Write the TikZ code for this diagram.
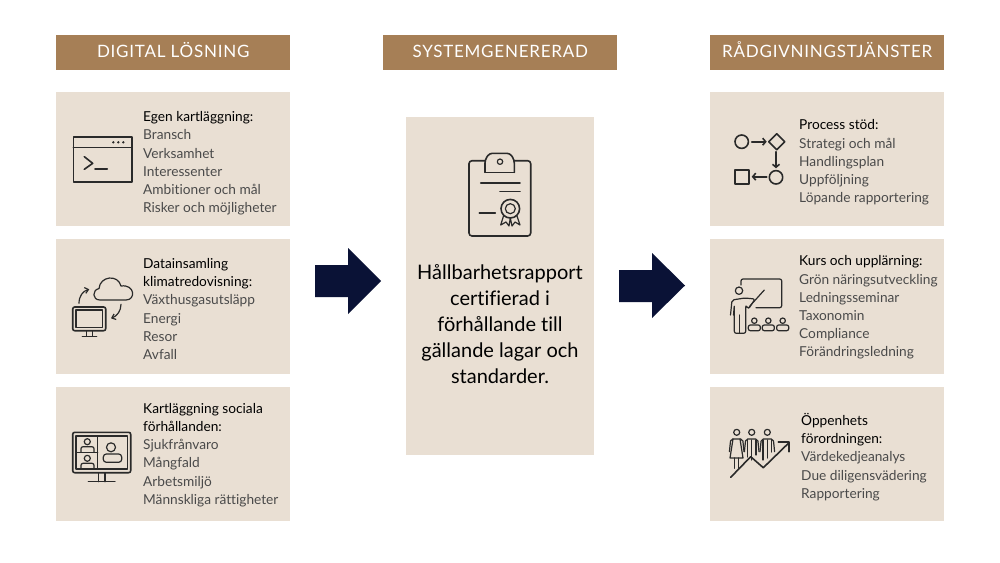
\documentclass[tikz,border=0pt]{standalone}
\usepackage{fontspec}
\setmainfont[Ligatures=NoCommon]{Lato}
\newfontfamily\capsfont[LetterSpace=4.5]{Lato}
\usetikzlibrary{arrows.meta}
\definecolor{panel}{HTML}{E9DFD3}
\definecolor{gold}{HTML}{A67F56}
\definecolor{navy}{HTML}{0A1236}
\definecolor{ink}{HTML}{2A2A2A}
\definecolor{soft}{HTML}{4A4A4A}
\tikzset{
 panelbox/.style={fill=panel,draw=none,anchor=north west,inner sep=0pt,minimum width=234pt},
 headbox/.style={fill=gold,draw=none,anchor=north west,inner sep=0pt,minimum width=234pt,minimum height=35pt,text=white,text height=12pt,text depth=3pt,font=\capsfont\fontsize{17}{20}\selectfont},
 listing/.style={anchor=west,inner sep=0pt,align=left,text=soft,font=\fontsize{13.7}{18.2}\selectfont},
 centertext/.style={anchor=center,inner sep=0pt,align=center,text=black,font=\fontsize{20}{26}\selectfont},
 icon/.style={draw=ink,line width=1.6pt,line cap=round,line join=round},
 thinicon/.style={draw=ink,line width=1.2pt,line cap=round,line join=round},
 bigarrow/.style={fill=navy,draw=none},
}
\newcommand{\hd}[1]{{\color{black}#1}}
\begin{document}
\begin{tikzpicture}[x=1pt,y=-1pt]
\useasboundingbox[fill=white] (0,0) rectangle (1000,562);
% headers
\node[headbox] (h1) at (56,35) {DIGITAL LÖSNING};
\node[headbox] (h2) at (383,35) {SYSTEMGENERERAD};
\node[headbox] (h3) at (710,35) {RÅDGIVNINGSTJÄNSTER};
% panels
\node[panelbox,minimum height=134pt] (l1) at (56,92) {};
\node[panelbox,minimum height=135pt] (l2) at (56,239) {};
\node[panelbox,minimum height=134pt] (l3) at (56,387) {};
\node[panelbox,minimum height=134pt] (r1) at (710,92) {};
\node[panelbox,minimum height=135pt] (r2) at (710,239) {};
\node[panelbox,minimum height=134pt] (r3) at (710,387) {};
\node[panelbox,minimum width=188pt,minimum height=338pt] (mid) at (406,117) {};
% texts
\node[listing] (tl1) at (143,163.5) {\hd{Egen kartläggning:}\\Bransch\\Verksamhet\\Interessenter\\Ambitioner och mål\\Risker och möjligheter};
\node[listing] (tl2) at (143,309) {\hd{Datainsamling}\\\hd{klimatredovisning:}\\Växthusgasutsläpp\\Energi\\Resor\\Avfall};
\node[listing] (tl3) at (143,455) {\hd{Kartläggning sociala}\\\hd{förhållanden:}\\Sjukfrånvaro\\Mångfald\\Arbetsmiljö\\Männskliga rättigheter};
\node[listing] (tr1) at (799,162.5) {\hd{Process stöd:}\\Strategi och mål\\Handlingsplan\\Uppföljning\\Löpande rapportering};
\node[listing] (tr2) at (799,307.5) {\hd{Kurs och upplärning:}\\Grön näringsutveckling\\Ledningsseminar\\Taxonomin\\Compliance\\Förändringsledning};
\node[listing] (tr3) at (801,457) {\hd{Öppenhets}\\\hd{förordningen:}\\Värdekedjeanalys\\Due diligensvädering\\Rapportering};
\node[centertext] (tm) at (500,324) {Hållbarhetsrapport\\certifierad i\\förhållande till\\gällande lagar och\\standarder.};
% block arrows
\fill[bigarrow] (315,265)--(348,265)--(348,248)--(381,281)--(348,314)--(348,297)--(315,297)--cycle;
\fill[bigarrow] (619,270)--(652,270)--(652,253)--(685,285.5)--(652,318)--(652,302)--(619,302)--cycle;
% icon: terminal
\draw[icon] (73.3,136.7) rectangle (131.7,181.7);
\draw[icon] (73.3,147.3)--(131.7,147.3);
\fill[ink] (113.3,142.3) circle (1.3pt) (118.3,142.3) circle (1.3pt) (123.3,142.3) circle (1.3pt);
\draw[icon] (84.3,156.7)--(92.7,163.3)--(84.3,169.3);
\draw[icon] (95,169)--(107.3,169);
% icon: monitor and cloud
\draw[icon,rounded corners=2pt] (72.7,307) rectangle (105.7,330.7);
\draw[thinicon] (76,310) rectangle (102.7,327.3);
\draw[thinicon] (86.7,330.7)--(86.7,336) (92.3,330.7)--(92.3,336) (82.3,336.3)--(96.7,336.3);
\draw[thinicon] (100,300) .. controls (92,300) and (92,290) .. (99,288.5) .. controls (100,276) and (118,274) .. (121,286) .. controls (135,284) and (136,300) .. (126,300) -- cycle;
\draw[thinicon,-{Straight Barb[length=3.5pt,width=6pt]}] (79,303.3) .. controls (79,296) and (83,291) .. (89.3,289.3);
\draw[thinicon,-{Straight Barb[length=3.5pt,width=6pt]}] (121,304.3) .. controls (121,311) and (117,316) .. (111,318.3);
% icon: video call
\draw[icon,rounded corners=2pt] (72.7,432.3) rectangle (130.7,472.7);
\draw[thinicon] (76,436) rectangle (127.3,469);
\draw[thinicon] (97.7,436)--(97.7,469) (76,452.7)--(97.7,452.7);
\draw[thinicon] (98.3,472.7)--(98.3,481.7) (105,472.7)--(105,481.7) (88.3,481.7)--(115,481.7);
\draw[thinicon] (111,447.3) circle (4.5pt);
\draw[thinicon,rounded corners=3pt] (103.3,462.3) rectangle (121.7,454);
\draw[thinicon] (87.3,441.7) circle (3pt) (87.3,458.3) circle (3pt);
\draw[thinicon,rounded corners=2pt] (81,451.7)--(81,446.7)--(94,446.7)--(94,451.7);
\draw[thinicon,rounded corners=2pt] (81,469)--(81,463.3)--(94,463.3)--(94,469);
% icon: clipboard
\draw[icon,rounded corners=3pt] (485,160.7)--(469,160.7)--(469,236)--(530.7,236)--(530.7,160.7)--(514.3,160.7);
\draw[icon,rounded corners=3pt] (485,172.3)--(485,160)--(489.3,153.3)--(510,153.3)--(514.3,160)--(514.3,172.3);
\draw[icon] (485,172.3)--(514.3,172.3);
\draw[thinicon] (500,161.7) circle (2.7pt);
\draw[icon] (480.7,182.7)--(520,182.7) (500,191.3)--(520,191.3) (479.3,212.7)--(495.3,212.7);
\draw[icon] (510.3,208.7) circle (9.3pt);
\draw[thinicon] (510.3,208.7) circle (5pt);
\draw[thinicon] (503.5,216)--(500.7,225)--(506,222)--(509,226)--(510.3,218)--(512,226)--(515,222)--(520,225)--(517,216);
% icon: process
\draw[icon] (741.7,141.7) circle (6.7pt);
\draw[icon,-{Straight Barb[length=3pt,width=7pt]}] (751.7,141.7)--(766.7,141.7);
\draw[icon] (776.7,133.7)--(784.7,141.7)--(776.7,149.7)--(768.7,141.7)--cycle;
\draw[icon,-{Straight Barb[length=3pt,width=7pt]}] (776,151.7)--(776,168.3);
\draw[icon] (776,177.3) circle (6.7pt);
\draw[icon,-{Straight Barb[length=3pt,width=7pt]}] (766.7,176.7)--(751.7,176.7);
\draw[icon] (735,170) rectangle (749,184);
% icon: teacher
\draw[thinicon,rounded corners=2pt] (741,285)--(741,279)--(781.7,279)--(781.7,307.7)--(756,307.7);
\draw[thinicon] (739,290.7) circle (3.7pt);
\draw[thinicon] (764.3,290)--(749.3,306.7);
\draw[thinicon,rounded corners=2pt] (730.5,315)--(732,300)--(745,298)--(755,299)--(748.5,309)--(745.7,305)--(745.7,333.3)--(734.3,333.3)--(734.3,305)--(733.5,315);
\draw[thinicon] (739.6,315)--(739.6,333);
\foreach \px in {754.3,768.3,782.7}{
 \draw[thinicon] (\px,320.7) circle (2.7pt);
 \draw[thinicon,rounded corners=2pt] (\px-6,330.7)--(\px-6,325)--(\px+6,325)--(\px+6,330.7)--cycle;
}
% icon: people and growth
\foreach \px in {736.7,751.7,767.3}{
 \draw[thinicon] (\px,432.3) circle (3pt);
 \draw[thinicon,rounded corners=2pt] (\px-7.3,451.7)--(\px-6,439)--(\px+6,439)--(\px+7.3,451.7);
}
\draw[thinicon] (733,439)--(730,458)--(743,458)--(740,439);
\draw[thinicon] (734.5,458)--(734.5,468.3) (738.5,458)--(738.5,468.3);
\draw[thinicon] (747.5,440)--(747.5,457) (751.7,440)--(751.7,460) (756,440)--(756,455);
\draw[thinicon] (763,440)--(763,460) (767.3,440)--(767.3,458) (771.5,440)--(771.5,452);
\draw[icon] (730.7,477.3)--(750.7,456.7)--(763.3,467.7)--(789,442.7);
\draw[icon] (778.3,441.7)--(789,441.7)--(789,451.7);
\end{tikzpicture}
\end{document}
